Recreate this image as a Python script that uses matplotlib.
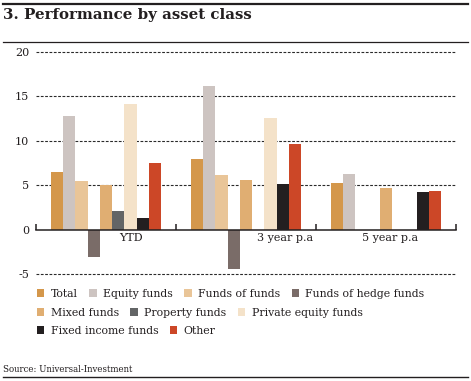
import numpy as np
import matplotlib
matplotlib.use("Agg")
import matplotlib.pyplot as plt
from matplotlib.patches import Patch
from matplotlib.lines import Line2D

plt.rcParams['font.family'] = ['DejaVu Serif']

categories = ["YTD", "3 year p.a", "5 year p.a"]
series_names = ["Total", "Equity funds", "Funds of funds", "Funds of hedge funds",
                "Mixed funds", "Property funds", "Private equity funds",
                "Fixed income funds", "Other"]
nan = np.nan
total = [6.5, 7.9, 5.3]
equity = [12.8, 16.2, 6.3]
funds_of_funds = [5.5, 6.2, nan]
hedge = [-3.1, -4.4, nan]
mixed = [5.0, 5.6, 4.7]
property_f = [2.1, nan, nan]
private_eq = [14.1, 12.6, nan]
fixed_inc = [1.3, 5.1, 4.2]
other = [7.5, 9.6, 4.4]
series_values = [total, equity, funds_of_funds, hedge, mixed, property_f,
                 private_eq, fixed_inc, other]
colors = ["#D4974B", "#CDC4C1", "#E9C598", "#7A6C68", "#E0AE72", "#636566",
          "#F4E2C9", "#231F20", "#CC4727"]
yticks = [-5, 0, 5, 10, 15, 20]
ytick_labels = ["-5", "0", "5", "10", "15", "20"]

W, H = 471, 381
fig = plt.figure(figsize=(W / 100, H / 100), dpi=100)

# axes geometry (pixels)
x0, x1 = 36, 456
ytop_px, ybot_px = 47.5, 278.5
ax = fig.add_axes([x0 / W, 1 - ybot_px / H, (x1 - x0) / W, (ybot_px - ytop_px) / H])
ax.set_xlim(-0.5, 2.5)
ax.set_ylim(-5.5, 20.5)

x = np.arange(len(categories))
bw = 0.088
for i, (vals, c) in enumerate(zip(series_values, colors)):
    ax.bar(x + (i - 4) * bw, vals, width=bw, color=c, zorder=2, linewidth=0)

for yv in yticks:
    if yv != 0:
        ax.axhline(yv, color="#2a2a2a", lw=0.8, ls=(0, (2.5, 1.4)), zorder=1)

for s in ["top", "right", "left"]:
    ax.spines[s].set_visible(False)
ax.spines["bottom"].set_position(("data", 0))
ax.spines["bottom"].set_color("#231F20")
ax.spines["bottom"].set_linewidth(1.1)
ax.spines["bottom"].set_zorder(3)

ax.set_yticks(yticks)
ax.set_yticklabels(ytick_labels)
ax.tick_params(axis="y", length=0, pad=5, labelsize=8, labelcolor="#231F20")

ax.set_xticks([-0.5, 0.5, 1.5, 2.5])
ax.set_xticklabels([])
ax.tick_params(axis="x", which="major", direction="in", length=4.5, width=1.1,
               color="#231F20")
ax.set_xticks([0.179, 1.279, 2.03], minor=True)
ax.set_xticklabels(categories, minor=True)
ax.tick_params(axis="x", which="minor", length=0, pad=2.5, labelsize=8,
               labelcolor="#231F20")

# Title and rules
fig.add_artist(Line2D([3 / W, 468 / W], [1 - 3.8 / H, 1 - 3.8 / H], color="#231F20", lw=1.6))
fig.add_artist(Line2D([3 / W, 468 / W], [1 - 42.3 / H, 1 - 42.3 / H], color="#231F20", lw=0.9))
fig.add_artist(Line2D([3 / W, 468 / W], [1 - 377 / H, 1 - 377 / H], color="#231F20", lw=1.0))
fig.text(3 / W, 1 - 15.5 / H, "3. Performance by asset class", fontsize=10.8,
         fontweight="bold", color="#231F20", va="center", ha="left")
fig.text(3 / W, 1 - 369 / H, "Source: Universal-Investment", fontsize=6.2,
         color="#231F20", va="center", ha="left")

# Legend rows (flow layout)
rows = [[0, 1, 2, 3], [4, 5, 6], [7, 8]]
row_y = [294, 313, 331]
for r, yc in zip(rows, row_y):
    handles = [Patch(facecolor=colors[k], edgecolor="none") for k in r]
    labels = [series_names[k] for k in r]
    leg = fig.legend(handles, labels, loc="center left",
                     bbox_to_anchor=(37 / W, 1 - yc / H), ncol=len(r),
                     frameon=False, fontsize=7.8, handlelength=0.68,
                     handleheight=0.68, handletextpad=0.6, columnspacing=1.05,
                     borderpad=0, borderaxespad=0)
    for t in leg.get_texts():
        t.set_color("#231F20")

fig.savefig("out.png", dpi=100)
